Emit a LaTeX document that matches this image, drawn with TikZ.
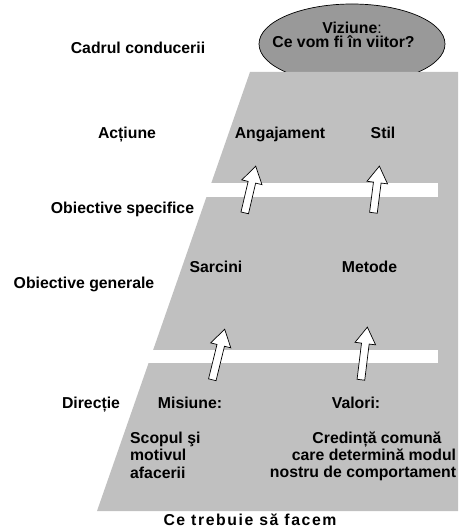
\documentclass[tikz,border=0pt]{standalone}
\usepackage{fontspec}
\setmainfont{Liberation Sans}
\usetikzlibrary{shapes.arrows}
\definecolor{pyrgray}{RGB}{192,192,192}
\definecolor{visgray}{RGB}{153,153,153}
\tikzset{
  lbl/.style={font=\fontsize{15.8}{17.5}\selectfont\bfseries, inner sep=0pt, anchor=base},
  uparrow/.style={single arrow, draw=black, fill=white, line width=0.7pt, inner sep=3.5pt,
    single arrow head extend=6.5pt, single arrow tip angle=64, minimum height=#1, sloped}
}
\begin{document}
\begin{tikzpicture}[x=1pt,y=-1pt]
            \useasboundingbox (0,0) rectangle (461,529);
            \filldraw[fill=visgray, draw=black, line width=0.7pt] (352,44) ellipse [x radius=93, y radius=40];
            \fill[pyrgray] (250,72) -- (458,72) -- (458,511) -- (97,511) -- cycle;
            \fill[white] (150,183) rectangle (438,197);
            \fill[white] (100,350) rectangle (438,363);
            \coordinate (a1s) at (244,216);
            \coordinate (a1e) at (255,169);
            \coordinate (a2s) at (373,216);
            \coordinate (a2e) at (379,169);
            \coordinate (a3s) at (211.5,383);
            \coordinate (a3e) at (224,332);
            \coordinate (a4s) at (360.5,383);
            \coordinate (a4e) at (367,330);
            \path (a1s) -- node[uparrow=48pt] (a1) {} (a1e);
            \path (a2s) -- node[uparrow=47pt] (a2) {} (a2e);
            \path (a3s) -- node[uparrow=52pt] (a3) {} (a3e);
            \path (a4s) -- node[uparrow=53pt] (a4) {} (a4e);
            \node[lbl] (cadru) at (138,54) {Cadrul conducerii};
            \node[lbl] (viz) at (352,34) {Viziune\textmd{:}};
            \node[lbl] (viitor) at (343.5,48) {Ce vom fi în viitor?};
            \node[lbl] (actiune) at (127,139) {Acțiune};
            \node[lbl] (angaj) at (280,139) {Angajament};
            \node[lbl] (stil) at (383,139) {Stil};
            \node[lbl] (obspec) at (122.5,213) {Obiective specifice};
            \node[lbl] (sarcini) at (216,272) {Sarcini};
            \node[lbl] (metode) at (369.5,272) {Metode};
            \node[lbl] (obgen) at (84,288) {Obiective generale};
            \node[lbl] (directie) at (91,408) {Direcție};
            \node[lbl] (misiune) at (190,408) {Misiune:};
            \node[lbl] (valori) at (356,408) {Valori:};
            \node[lbl, anchor=base west, align=left] (scop) at (130,478) {Scopul şi\\motivul\\afacerii};
            \node[lbl] (cred1) at (377,443) {Credință comună};
            \node[lbl] (cred2) at (374,460) {care determină modul};
            \node[lbl] (cred3) at (363,477) {nostru de comportament};
            \node[lbl] (facem) at (250,525) {\addfontfeatures{LetterSpace=10}Ce trebuie să facem};
        \end{tikzpicture}
\end{document}
